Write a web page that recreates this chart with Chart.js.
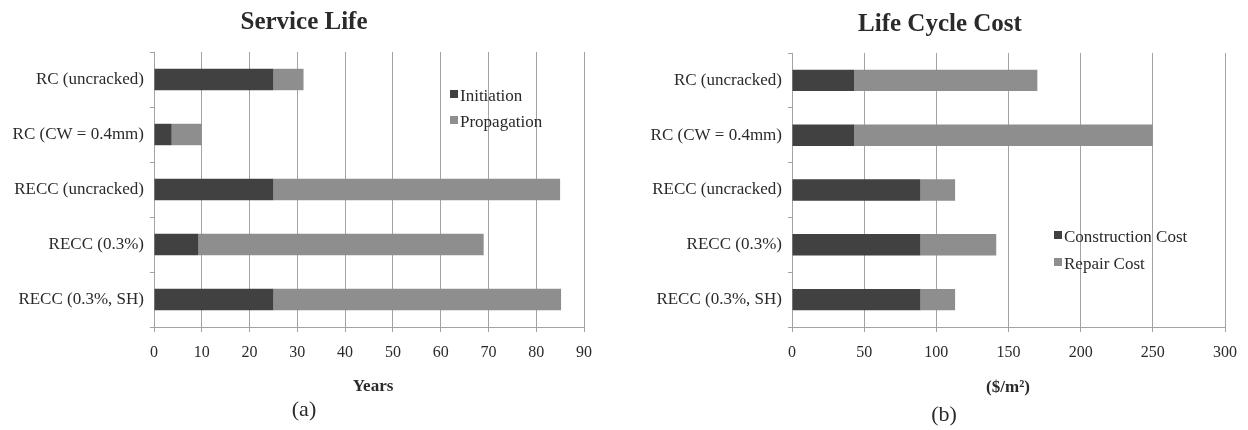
<!DOCTYPE html>
<html>
<head>
<meta charset="utf-8">
<script src="https://cdn.jsdelivr.net/npm/chart.js@4"></script>
<style>
  html, body { margin: 0; padding: 0; background: #fff; }
  #wrap { position: relative; width: 1248px; height: 430px; overflow: hidden; }
  #chart-life { position: absolute; left: 0; top: 0; }
  #chart-cost { position: absolute; left: 620px; top: 0; }
</style>
</head>
<body>
<div id="wrap">
  <canvas id="chart-life" width="620" height="430"></canvas>
  <canvas id="chart-cost" width="628" height="430"></canvas>
</div>
<script>
// categories, same for both panels
const categories = ["RC (uncracked)", "RC (CW = 0.4mm)", "RECC (uncracked)", "RECC (0.3%)", "RECC (0.3%, SH)"];

// (a) service life, years
const initiation = [25, 3.7, 25, 9.3, 25];
const propagation = [6.3, 6.3, 60, 59.7, 60.2];
const lifeTicks = [0, 10, 20, 30, 40, 50, 60, 70, 80, 90];

// (b) life cycle cost, $/m2
const construction = [43, 43, 89, 89, 89];
const repair = [127, 207, 24, 52.5, 24];
const costTicks = [0, 50, 100, 150, 200, 250, 300];

const DARK = "#414141";
const LIGHT = "#8e8e8e";
const GRID = "#a3a3a3";
const TEXT = "#2a2a2a";
const SERIF = "'Liberation Serif', 'DejaVu Serif', serif";

// draws titles, captions and the inner legend
function textPlugin(cfg) {
  return {
    id: "panelText",
    afterDraw(chart) {
      const ctx = chart.ctx;
      ctx.save();
      ctx.fillStyle = TEXT;
      ctx.textAlign = "center";
      ctx.textBaseline = "middle";

      ctx.font = "bold 25px " + SERIF;
      ctx.fillText(cfg.title, cfg.titleX, cfg.titleY);

      ctx.font = "bold 17px " + SERIF;
      ctx.fillText(cfg.axisTitle, cfg.axisX, cfg.axisY);

      ctx.font = "22px " + SERIF;
      ctx.fillText(cfg.caption, cfg.captionX, cfg.captionY);

      ctx.textAlign = "left";
      ctx.font = "17px " + SERIF;
      chart.data.datasets.forEach((ds, i) => {
        const y = cfg.legendY + i * cfg.legendGap;
        ctx.fillStyle = ds.backgroundColor;
        ctx.fillRect(cfg.legendX, y - 7, 8, 8);
        ctx.fillStyle = TEXT;
        ctx.fillText(ds.label, cfg.legendX + 10, y);
      });
      ctx.restore();
    }
  };
}

function buildChart(id, labels, series, ticks, box, text) {
  const ctx = document.getElementById(id).getContext("2d");
  return new Chart(ctx, {
    type: "bar",
    data: {
      labels: labels,
      datasets: series.map(s => ({
        label: s.label,
        data: s.data,
        backgroundColor: s.color,
        borderWidth: 0,
        barPercentage: 0.39,
        categoryPercentage: 1
      }))
    },
    options: {
      indexAxis: "y",
      responsive: false,
      animation: false,
      devicePixelRatio: 1,
      layout: { padding: { left: 0, right: box.right, top: box.top, bottom: 0 } },
      plugins: {
        legend: { display: false },
        title: { display: false },
        tooltip: { enabled: false }
      },
      scales: {
        x: {
          stacked: true,
          min: ticks[0],
          max: ticks[ticks.length - 1],
          afterBuildTicks: scale => { scale.ticks = ticks.map(v => ({ value: v })); },
          afterFit: scale => { scale.height = box.xHeight; },
          grid: { color: GRID, lineWidth: 1, tickLength: 5, drawTicks: true },
          border: { display: true, color: GRID, width: 1 },
          ticks: { color: TEXT, font: { family: SERIF, size: 16 }, padding: 11, maxRotation: 0 }
        },
        y: {
          stacked: true,
          afterFit: scale => { scale.width = box.yWidth; },
          grid: { drawOnChartArea: false, drawTicks: true, tickLength: 4, color: GRID, offset: true },
          border: { display: true, color: GRID, width: 1 },
          ticks: { color: TEXT, font: { family: SERIF, size: 17 }, padding: 6 }
        }
      }
    },
    plugins: [textPlugin(text)]
  });
}

buildChart("chart-life", categories, [
  { label: "Initiation", data: initiation, color: DARK },
  { label: "Propagation", data: propagation, color: LIGHT }
], lifeTicks,
  { right: 36, top: 52, xHeight: 103, yWidth: 154 },
  { title: "Service Life", titleX: 304, titleY: 23,
    axisTitle: "Years", axisX: 373, axisY: 387,
    caption: "(a)", captionX: 304, captionY: 410,
    legendX: 450, legendY: 97, legendGap: 26 });

buildChart("chart-cost", categories, [
  { label: "Construction Cost", data: construction, color: DARK },
  { label: "Repair Cost", data: repair, color: LIGHT }
], costTicks,
  { right: 21, top: 53, xHeight: 103, yWidth: 172 },
  { title: "Life Cycle Cost", titleX: 320, titleY: 25,
    axisTitle: "($/m²)", axisX: 388, axisY: 388,
    caption: "(b)", captionX: 324, captionY: 415,
    legendX: 434, legendY: 238, legendGap: 27 });
</script>
</body>
</html>
